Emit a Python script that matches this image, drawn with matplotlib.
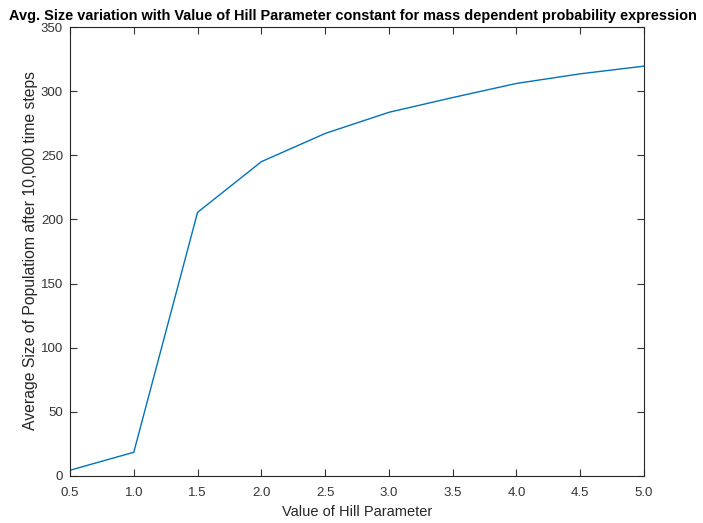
import matplotlib
matplotlib.use("Agg")
import matplotlib.pyplot as plt

hill = [0.5, 1.0, 1.5, 2.0, 2.5, 3.0, 3.5, 4.0, 4.5, 5.0]
avg_size = [4.5, 18.5, 205.5, 245, 267, 283.5, 295, 306, 313.5, 319.5]
xticks = [0.5, 1.0, 1.5, 2.0, 2.5, 3.0, 3.5, 4.0, 4.5, 5.0]
xticklabels = ["0.5", "1.0", "1.5", "2.0", "2.5", "3.0", "3.5", "4.0", "4.5", "5.0"]
yticks = [0, 50, 100, 150, 200, 250, 300, 350]

plt.rcParams['font.family'] = ['Liberation Sans', 'DejaVu Sans']

fig = plt.figure(figsize=(7.03, 5.23), dpi=100)
ax = fig.add_axes([70/703, 47/523, 574/703, 449/523])
ax.plot(hill, avg_size, color=(0, 0.447, 0.741), lw=1.0)
ax.set_xlim(0.5, 5.0)
ax.set_ylim(0, 350)
ax.set_xticks(xticks)
ax.set_xticklabels(xticklabels)
ax.set_yticks(yticks)
ax.tick_params(direction='in', top=True, right=True, length=5, width=0.8,
               labelsize=9.5, colors='#333333')
ax.tick_params(axis='x', pad=8)
ax.tick_params(axis='y', pad=5)
for s in ax.spines.values():
    s.set_color('#262626')
    s.set_linewidth(0.8)
ax.set_xlabel("Value of Hill Parameter", fontsize=10.5, color='#262626', va='center')
ax.set_ylabel("Average Size of Populatiom after 10,000 time steps", fontsize=11.3, color='#262626', va='center')
ax.xaxis.set_label_coords((357 - 70) / 574, (476 - 512) / 449)
ax.yaxis.set_label_coords((31 - 70) / 574, (476 - 251) / 449)
fig.text(353/703, 1 - 16/523, "Avg. Size variation with Value of Hill Parameter constant for mass dependent probability expression",
         ha='center', va='center', fontsize=10.45, fontweight='bold')
fig.savefig("out.png", dpi=100)
